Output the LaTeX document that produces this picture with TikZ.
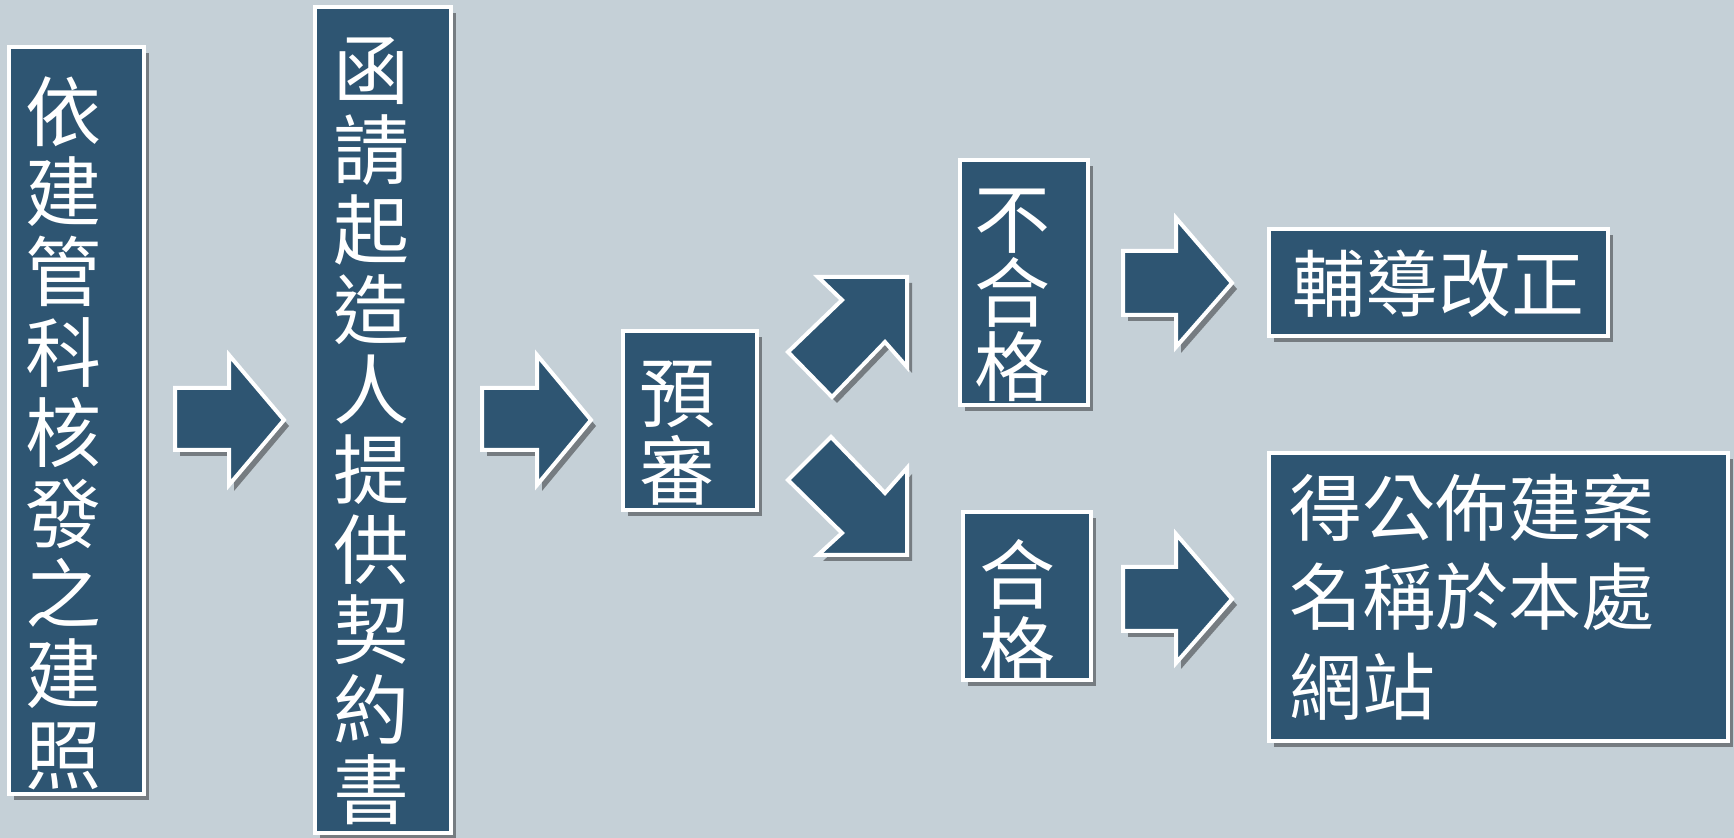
\documentclass[tikz,border=0pt]{standalone}
\usepackage{fontspec}
\newfontfamily\cjk{Noto Sans CJK TC}
\usetikzlibrary{shadows}
\definecolor{bg}{HTML}{C5D0D7}
\definecolor{boxblue}{HTML}{2E5572}
\begin{document}
\begin{tikzpicture}[x=0.5pt,y=-0.5pt,
  shp/.style={fill=boxblue,draw=white,line width=2pt,line join=miter,
    drop shadow={shadow xshift=2.5pt,shadow yshift=-3pt,opacity=.4,fill=black}},
  boxnode/.style={shp,rectangle,inner sep=0pt},
  lbl/.style={text=white,inner sep=0pt,anchor=north west,align=left},
  fs/.style={font=\cjk\fontsize{36.5}{#1}\selectfont},
  vfs/.style={font=\cjk\fontsize{38}{#1}\selectfont}]
\fill[bg] (0,0) rectangle (1734,838);
\useasboundingbox (0,0) rectangle (1734,838);

% boxes
\node[boxnode,minimum width=67.5pt,minimum height=373.5pt] (b1) at (76.5,420.5) {};
\node[boxnode,minimum width=68pt,minimum height=413pt] (b2) at (383,420) {};
\node[boxnode,minimum width=67pt,minimum height=89.5pt] (b3) at (690,420.5) {};
\node[boxnode,minimum width=64pt,minimum height=122.5pt] (b4) at (1024,282.5) {};
\node[boxnode,minimum width=64pt,minimum height=84pt] (b5) at (1027,596) {};
\node[boxnode,minimum width=169.5pt,minimum height=53.5pt] (b6) at (1438.5,282.5) {};
\node[boxnode,minimum width=229.5pt,minimum height=144pt] (b7) at (1498.5,597) {};

% texts (clipped to box interiors)
\begin{scope}
\clip ([xshift=1pt,yshift=-1pt]b1.north west) rectangle ([xshift=-1pt,yshift=1pt]b1.south east);
\node[lbl,vfs=40.2pt] (t1) at (25,76) {依\\建\\管\\科\\核\\發\\之\\建\\照};
\end{scope}
\begin{scope}
\clip ([xshift=1pt,yshift=-1pt]b2.north west) rectangle ([xshift=-1pt,yshift=1pt]b2.south east);
\node[lbl,vfs=40pt] (t2) at (333,37) {函\\請\\起\\造\\人\\提\\供\\契\\約\\書};
\end{scope}
\begin{scope}
\clip ([xshift=1pt,yshift=-1pt]b3.north west) rectangle ([xshift=-1pt,yshift=1pt]b3.south east);
\node[lbl,vfs=39pt] (t3) at (639,361) {預\\審};
\end{scope}
\begin{scope}
\clip ([xshift=1pt,yshift=-1pt]b4.north west) rectangle ([xshift=-1pt,yshift=1pt]b4.south east);
\node[lbl,vfs=37pt] (t4) at (974,189) {不\\合\\格};
\end{scope}
\begin{scope}
\clip ([xshift=1pt,yshift=-1pt]b5.north west) rectangle ([xshift=-1pt,yshift=1pt]b5.south east);
\node[lbl,vfs=38.5pt] (t5) at (979,539) {合\\格};
\end{scope}
\node[lbl,fs=40pt] (t6) at (1292,250) {輔導改正};
\node[lbl,fs=44.75pt] (t7) at (1289,473) {得公佈建案\\名稱於本處\\網站};

% block arrows
\draw[shp] (175,388) -- (229,388) -- (229,355) -- (284,420) -- (229,485) -- (229,450) -- (175,450) -- cycle;
\draw[shp] (482,388) -- (537,388) -- (537,355) -- (591,420) -- (537,485) -- (537,450) -- (482,450) -- cycle;
\draw[shp] (818,277) -- (907,277) -- (907,367) -- (885,342) -- (832,397) -- (788,352) -- (842,300) -- cycle;
\draw[shp] (831,437) -- (885,493) -- (907,468) -- (907,555) -- (818,555) -- (842,533) -- (788,480) -- cycle;
\draw[shp] (1123,251) -- (1176,251) -- (1176,218) -- (1232,283) -- (1176,347) -- (1176,315) -- (1123,315) -- cycle;
\draw[shp] (1123,567) -- (1176,567) -- (1176,534) -- (1232,599) -- (1176,663) -- (1176,631) -- (1123,631) -- cycle;
\end{tikzpicture}
\end{document}
